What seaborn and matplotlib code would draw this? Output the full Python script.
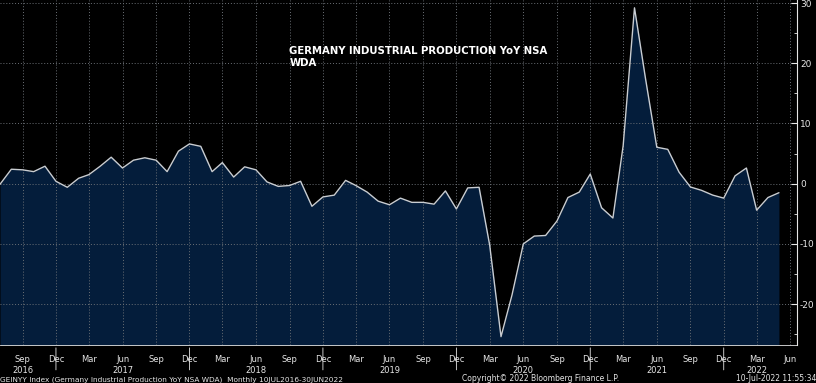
import numpy as np
import pandas as pd
import matplotlib
matplotlib.use('Agg')
import matplotlib.pyplot as plt
import matplotlib.dates as mdates
import seaborn as sns

# Germany industrial production YoY NSA WDA, monthly Jul 2016 - May 2022
start_month = '2016-07-01'
yoy_values = [
    -0.1, 2.4, 2.3, 2.0, 2.9, 0.4,
    -0.6, 0.9, 1.5, 2.9, 4.4, 2.6, 3.9, 4.3, 3.9, 2.0, 5.4, 6.6,
    6.2, 2.0, 3.5, 1.1, 2.8, 2.3, 0.3, -0.45, -0.3, 0.4, -3.75, -2.2,
    -1.9, 0.55, -0.3, -1.4, -2.9, -3.5, -2.4, -3.1, -3.1, -3.4, -1.2, -4.2,
    -0.7, -0.6, -10.2, -25.4, -18.5, -10.0, -8.7, -8.6, -6.2, -2.3, -1.4, 1.6,
    -4.0, -5.7, 6.3, 29.2, 17.5, 6.05, 5.7, 1.9, -0.55, -1.1, -1.9, -2.4,
    1.3, 2.6, -4.4, -2.3, -1.5,
]
year_labels = ['2016', '2017', '2018', '2019', '2020', '2021', '2022']
year_label_months = ['2016-09-01', '2017-06-01', '2018-06-01', '2019-06-01',
                     '2020-06-01', '2021-06-01', '2022-03-01']
y_ticks = [-20, -10, 0, 10, 20, 30]

title = 'GERMANY INDUSTRIAL PRODUCTION YoY NSA\nWDA'
footer_left = 'GEINYY Index (Germany Industrial Production YoY NSA WDA)  Monthly 10JUL2016-30JUN2022'
footer_mid = 'Copyright\u00a9 2022 Bloomberg Finance L.P.'
footer_right = '10-Jul-2022 11:55:34'

df = pd.DataFrame({
    'date': pd.date_range(start_month, periods=len(yoy_values), freq='MS'),
    'yoy': yoy_values,
})

sns.set_style('dark')
plt.rcParams['font.family'] = ['DejaVu Sans']
plt.rcParams['axes.unicode_minus'] = False

BG = '#000000'
FILL = '#041d3b'
LINE = '#c9cdd2'
GRID = '#6a6f75'
TXT = '#e6e6e6'

fig = plt.figure(figsize=(8.16, 3.83), dpi=100, facecolor=BG)
ax = fig.add_axes([0.0, 0.099, 0.977, 0.901])
ax.set_facecolor(BG)

y_min, y_max = -26.8, 30.5
ax.fill_between(df['date'], df['yoy'], y_min, color=FILL, zorder=1, linewidth=0)
sns.lineplot(data=df, x='date', y='yoy', ax=ax, color=LINE, linewidth=1.0, zorder=3)

ax.set_xlim(pd.Timestamp('2016-07-01'), pd.Timestamp('2022-06-20'))
ax.set_ylim(y_min, y_max)

# grid
ax.xaxis.set_major_locator(mdates.MonthLocator(bymonth=[3, 6, 9, 12]))
ax.xaxis.set_major_formatter(mdates.DateFormatter('%b'))
ax.xaxis.set_minor_locator(mdates.MonthLocator())
ax.grid(True, which='major', color=GRID, linestyle=(0, (1, 2)), linewidth=0.7, zorder=2)
ax.set_axisbelow(False)

ax.yaxis.tick_right()
ax.set_yticks(y_ticks)
ax.set_yticks([-25, -15, -5, 5, 15, 25], minor=True)
ax.tick_params(axis='y', which='major', colors=TXT, labelsize=6.5, direction='in',
               length=4, width=0.8, pad=2)
ax.tick_params(axis='y', which='minor', colors=TXT, direction='in', length=2, width=0.6)
ax.tick_params(axis='x', which='major', colors=TXT, labelsize=6, direction='out',
               length=3, width=0.6, pad=4)
ax.tick_params(axis='x', which='minor', colors=TXT, direction='out', length=2, width=0.5)
ax.set_xlabel('')
ax.set_ylabel('')

for side in ['top', 'left']:
    ax.spines[side].set_visible(False)
ax.spines['right'].set_color(TXT)
ax.spines['right'].set_linewidth(0.8)
ax.spines['bottom'].set_color(TXT)
ax.spines['bottom'].set_linewidth(0.6)

# year labels under month labels
for m, yr in zip(year_label_months, year_labels):
    ax.annotate(yr, xy=(pd.Timestamp(m), 0), xycoords=('data', 'axes fraction'),
                xytext=(0, -18), textcoords='offset points', ha='center', va='center',
                color=TXT, fontsize=6, annotation_clip=False)

# year separators
for d in df['date']:
    if d.month == 12:
        ax.annotate('', xy=(d, 0), xycoords=('data', 'axes fraction'),
                    xytext=(d, -0.08), textcoords=('data', 'axes fraction'),
                    arrowprops=dict(arrowstyle='-', color=TXT, lw=0.6),
                    annotation_clip=False)

ax.text(0.363, 0.835, title, transform=ax.transAxes, color='white', fontsize=7.3,
        fontweight='bold', ha='left', va='center', linespacing=1.15)

fig.text(0.0, 0.0, footer_left, color=TXT, fontsize=5.3, ha='left', va='bottom')
fig.text(0.663, 0.0, footer_mid, color=TXT, fontsize=5.5, ha='center', va='bottom')
fig.text(1.0, 0.0, footer_right, color=TXT, fontsize=5.5, ha='right', va='bottom')

fig.savefig('out.png', dpi=100, facecolor=BG)
